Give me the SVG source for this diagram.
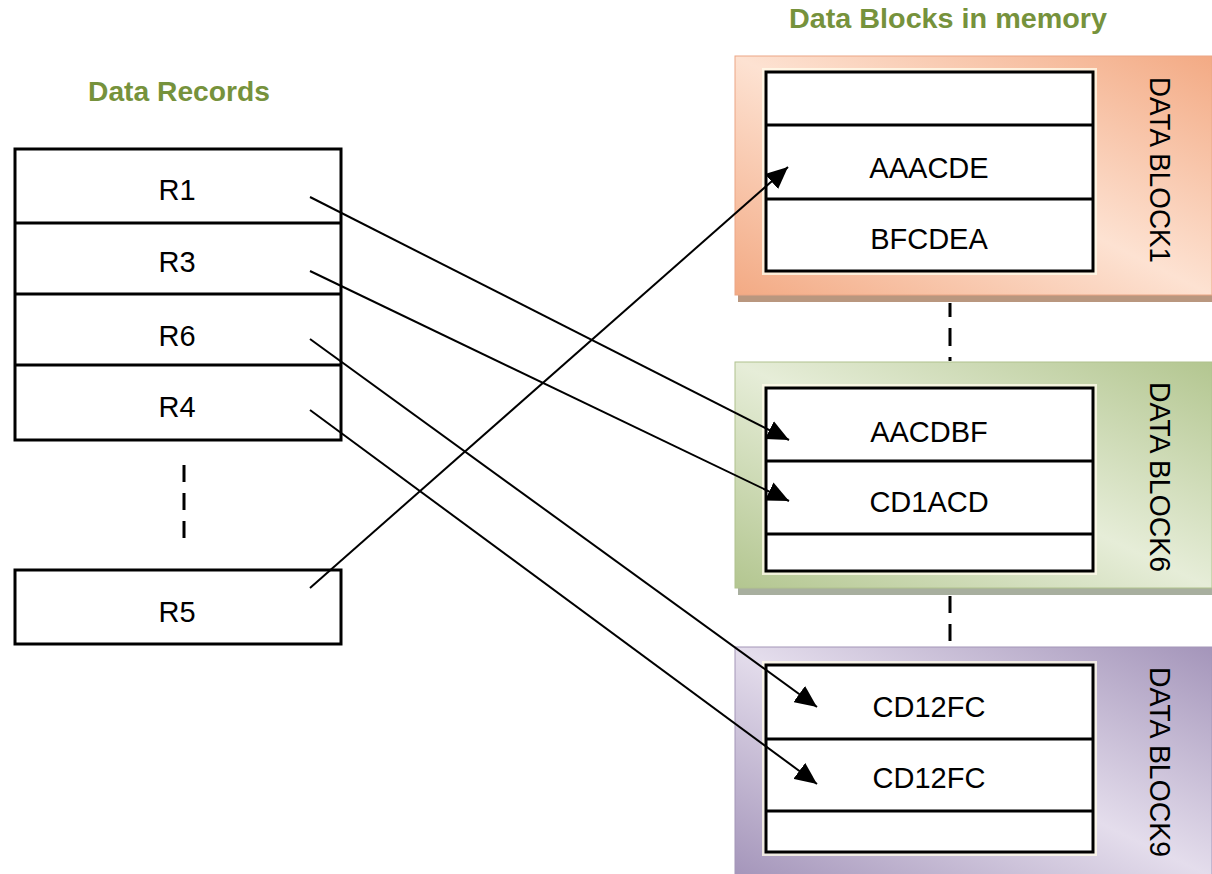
<svg xmlns="http://www.w3.org/2000/svg" width="1212" height="874" viewBox="0 0 1212 874">
<defs>
<linearGradient id="gOrange" x1="1" y1="0" x2="0" y2="1">
<stop offset="0" stop-color="#f3aa84"/>
<stop offset="0.5" stop-color="#fde2d2"/>
<stop offset="1" stop-color="#f3aa84"/>
</linearGradient>
<linearGradient id="gGreen" x1="1" y1="0" x2="0" y2="1">
<stop offset="0" stop-color="#b3c690"/>
<stop offset="0.5" stop-color="#e6edd8"/>
<stop offset="1" stop-color="#b3c690"/>
</linearGradient>
<linearGradient id="gPurple" x1="1" y1="0" x2="0" y2="1">
<stop offset="0" stop-color="#a495ba"/>
<stop offset="0.5" stop-color="#e4ddec"/>
<stop offset="1" stop-color="#a495ba"/>
</linearGradient>
<marker id="arrow" markerUnits="userSpaceOnUse" markerWidth="24" markerHeight="20" refX="22" refY="10" orient="auto">
<path d="M0,0 L22,10 L0,20 z" fill="#000"/>
</marker>
</defs>
<style>
.tbl{fill:#fff;stroke:#000;stroke-width:3}
.row{stroke:#000;stroke-width:3}
.glow{fill:none;stroke:#fffbea;stroke-width:8;opacity:0.8}
.cell{font-family:"Liberation Sans",Arial,sans-serif;font-size:29px;fill:#000;text-anchor:middle}
.title{font-family:"Liberation Sans",Arial,sans-serif;font-size:28px;font-weight:bold;fill:#76923c}
.lbl{font-family:"Liberation Sans",Arial,sans-serif;font-size:29px;fill:#000;text-anchor:middle}
.conn{stroke:#000;stroke-width:2;fill:none;marker-end:url(#arrow)}
.dash{stroke:#000;stroke-width:3;fill:none}
</style>
<rect width="1212" height="874" fill="#fff"/>

<text class="title" x="88" y="101" textLength="182" lengthAdjust="spacingAndGlyphs">Data Records</text>
<text class="title" x="789" y="28" textLength="318" lengthAdjust="spacingAndGlyphs">Data Blocks in memory</text>

<g id="records">
<rect class="tbl" x="15" y="149" width="326" height="291"/>
<line class="row" x1="15" y1="223" x2="341" y2="223"/>
<line class="row" x1="15" y1="294" x2="341" y2="294"/>
<line class="row" x1="15" y1="365" x2="341" y2="365"/>
<text class="cell" x="177" y="200">R1</text>
<text class="cell" x="177" y="272">R3</text>
<text class="cell" x="177" y="346">R6</text>
<text class="cell" x="177" y="417">R4</text>
</g>
<g id="record-r5">
<rect class="tbl" x="15" y="570" width="326" height="74"/>
<text class="cell" x="177" y="622">R5</text>
</g>

<g id="block1">
<rect x="738" y="61" width="474" height="241" fill="#b9977f"/>
<rect x="735" y="56" width="477" height="239" fill="url(#gOrange)" stroke="#eba685" stroke-width="1"/>
<rect class="glow" x="766" y="72" width="327" height="199"/>
<rect class="tbl" x="766" y="72" width="327" height="199"/>
<line class="row" x1="766" y1="125" x2="1093" y2="125"/>
<line class="row" x1="766" y1="199" x2="1093" y2="199"/>
<text class="cell" x="929" y="178">AAACDE</text>
<text class="cell" x="929" y="249">BFCDEA</text>
<text class="lbl" transform="translate(1150,170) rotate(90)" textLength="186" lengthAdjust="spacingAndGlyphs">DATA BLOCK1</text>
</g>

<g id="block6">
<rect x="738" y="367" width="474" height="228" fill="#a8af9f"/>
<rect x="735" y="362" width="477" height="226" fill="url(#gGreen)" stroke="#b0c28e" stroke-width="1"/>
<rect class="glow" x="766" y="388" width="327" height="183"/>
<rect class="tbl" x="766" y="388" width="327" height="183"/>
<line class="row" x1="766" y1="461" x2="1093" y2="461"/>
<line class="row" x1="766" y1="534" x2="1093" y2="534"/>
<text class="cell" x="929" y="442">AACDBF</text>
<text class="cell" x="929" y="512">CD1ACD</text>
<text class="lbl" transform="translate(1150,477) rotate(90)" textLength="190" lengthAdjust="spacingAndGlyphs">DATA BLOCK6</text>
</g>

<g id="block9">
<rect x="735" y="647" width="477" height="230" fill="url(#gPurple)" stroke="#a395b8" stroke-width="1"/>
<rect class="glow" x="766" y="665" width="327" height="187"/>
<rect class="tbl" x="766" y="665" width="327" height="187"/>
<line class="row" x1="766" y1="739" x2="1093" y2="739"/>
<line class="row" x1="766" y1="811" x2="1093" y2="811"/>
<text class="cell" x="929" y="717">CD12FC</text>
<text class="cell" x="929" y="788">CD12FC</text>
<text class="lbl" transform="translate(1150,762) rotate(90)" textLength="190" lengthAdjust="spacingAndGlyphs">DATA BLOCK9</text>
</g>

<g id="connectors">
<line class="dash" x1="184" y1="465" x2="184" y2="538" stroke-dasharray="17 11"/>
<line class="dash" x1="950" y1="303" x2="950" y2="361" stroke-dasharray="14 11 18 11"/>
<line class="dash" x1="950" y1="596" x2="950" y2="643" stroke-dasharray="17 11"/>
<line class="conn" x1="310" y1="197" x2="789" y2="440"/>
<line class="conn" x1="310" y1="271" x2="789" y2="501"/>
<line class="conn" x1="310" y1="339" x2="817" y2="707"/>
<line class="conn" x1="310" y1="410" x2="817" y2="784"/>
<line class="conn" x1="310" y1="588" x2="788" y2="167"/>
</g>
</svg>
